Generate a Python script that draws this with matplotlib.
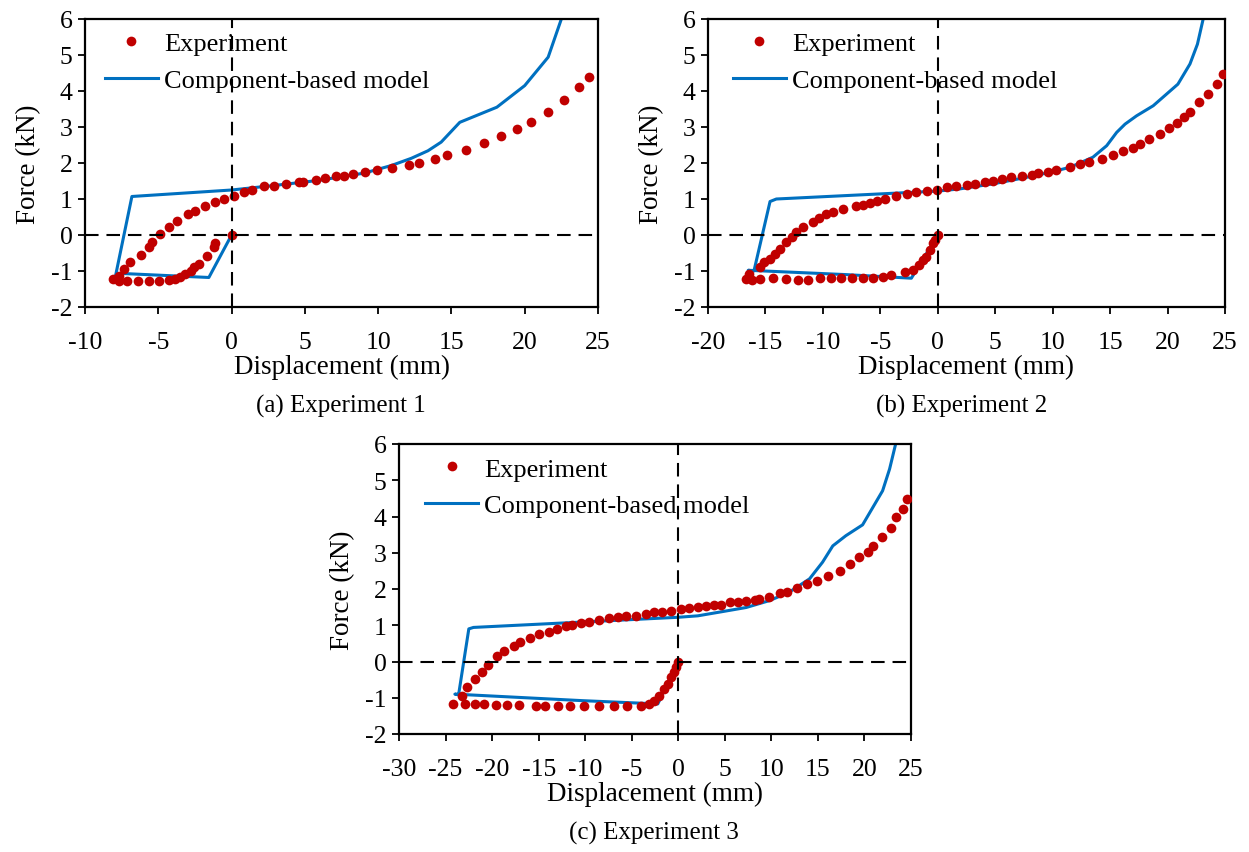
import matplotlib
matplotlib.use('Agg')
import matplotlib.pyplot as plt
import numpy as np

plt.rcParams['font.family'] = ['Liberation Serif', 'DejaVu Serif']
plt.rcParams['axes.unicode_minus'] = False

# Experiment 1
exp1_x = [0, -1.1, -1.2, -1.66, -2.24, -2.58, -2.8, -3.15, -3.5, -3.84, -4.3, -4.98, -5.66, -6.4, -7.14, -7.7, -8.06,
          -7.7, -7.37, -6.9, -6.2, -5.66, -5.43, -4.86, -4.3, -3.7, -3.0, -2.47, -1.78, -1.1, -0.52, 0.16, 0.84, 1.4,
          2.2, 2.9, 3.7, 4.6, 4.9, 5.75, 6.4, 7.1, 7.65, 8.3, 9.1, 9.9, 10.96, 12.1, 12.8, 13.86, 14.7, 16.0, 17.2,
          18.4, 19.5, 20.4, 21.6, 22.65, 23.7, 24.4]
exp1_y = [0, -0.23, -0.34, -0.57, -0.8, -0.9, -0.99, -1.08, -1.18, -1.22, -1.24, -1.27, -1.27, -1.27, -1.27, -1.27, -1.22,
          -1.13, -0.94, -0.76, -0.56, -0.34, -0.2, 0.03, 0.21, 0.4, 0.58, 0.68, 0.81, 0.93, 1.0, 1.09, 1.19, 1.26,
          1.35, 1.37, 1.42, 1.46, 1.48, 1.53, 1.58, 1.65, 1.65, 1.69, 1.74, 1.8, 1.86, 1.94, 2.0, 2.11, 2.23, 2.36, 2.55,
          2.74, 2.94, 3.15, 3.43, 3.75, 4.1, 4.38]
model1_x = [0, -1.55, -7.4, -7.95, -6.8, 0, 3, 6, 9.06, 10.9, 12.26, 13.4, 14.3, 15.57, 18.1, 20.0, 21.6, 22.5]
model1_y = [0, -1.18, -1.07, -1.2, 1.07, 1.25, 1.38, 1.52, 1.72, 1.93, 2.13, 2.34, 2.58, 3.13, 3.55, 4.15, 4.94, 6.0]

# Experiment 2
exp2_x = [0, -0.26, -0.41, -0.7, -0.99, -1.28, -1.63, -2.15, -2.87, -4.03, -4.76, -5.63, -6.5, -7.43, -8.4, -9.26,
          -10.28, -11.3, -12.17, -13.2, -14.3, -15.5, -16.2, -16.67,
          -16.4, -15.5, -15.1, -14.6, -14.2, -13.76, -13.2, -12.7, -12.3, -11.7, -10.85, -10.3, -9.7, -9.1, -8.25, -7.1,
          -6.5, -5.9, -5.3, -4.6, -3.6, -2.7, -1.86, -0.98, -0.1, 0.76, 1.6, 2.5, 3.2, 4.1, 4.8, 5.55, 6.4, 7.3, 8.2,
          8.74, 9.6, 10.3, 11.5, 12.4, 13.2, 14.26, 15.27, 16.1, 16.96, 17.6, 18.4, 19.3, 20.15, 20.8, 21.4, 21.95,
          22.76, 23.5, 24.3, 24.85]
exp2_y = [0, -0.14, -0.23, -0.42, -0.6, -0.69, -0.83, -0.97, -1.04, -1.11, -1.16, -1.2, -1.2, -1.2, -1.2, -1.2,
          -1.2, -1.25, -1.25, -1.22, -1.2, -1.22, -1.25, -1.22,
          -1.08, -0.9, -0.76, -0.67, -0.53, -0.39, -0.2, -0.06, 0.08, 0.21, 0.35, 0.46, 0.58, 0.63, 0.72, 0.8,
          0.83, 0.89, 0.95, 1.0, 1.09, 1.14, 1.19, 1.23, 1.26, 1.32, 1.37, 1.39, 1.42, 1.46, 1.51, 1.56, 1.6, 1.65, 1.68,
          1.72, 1.76, 1.81, 1.88, 1.97, 2.04, 2.11, 2.22, 2.34, 2.41, 2.53, 2.67, 2.8, 2.96, 3.1, 3.27, 3.41,
          3.69, 3.92, 4.19, 4.47]
model2_x = [0, -2.3, -8, -16.5, -16.0, -14.6, -14.05, 0, 1.9, 4.8, 7.7, 9.75, 11.5, 13.5, 14.7, 15.57, 16.3, 17.3,
            18.75, 20.9, 21.95, 22.6, 23.1]
model2_y = [0, -1.2, -1.1, -0.98, -1.0, 0.93, 1.0, 1.22, 1.28, 1.42, 1.6, 1.74, 1.88, 2.16, 2.48, 2.85, 3.08, 3.31,
            3.59, 4.19, 4.75, 5.3, 6.0]

# Experiment 3
exp3_x = [0, -0.25, -0.43, -0.79, -1.15, -1.5, -2.05, -2.6, -3.13, -4.03, -5.46, -6.9, -8.5, -10.1, -11.6, -12.9,
          -14.3, -15.3, -17.1, -18.4, -19.6, -20.9, -21.8, -22.9, -24.2,
          -23.2, -22.7, -21.8, -21.1, -20.4, -19.5, -18.7, -17.6, -16.95, -15.9, -15.0, -13.9, -13.0, -12.1, -11.4,
          -10.5, -9.6, -8.5, -7.4, -6.5, -5.6, -4.56, -3.5, -2.6, -1.7, -0.8, 0.3, 1.2, 2.1, 3.0, 3.8, 4.6, 5.57, 6.4,
          7.3, 8.2, 8.7, 9.7, 10.9, 11.7, 12.75, 13.8, 14.9, 16.05, 17.4, 18.4, 19.45, 20.35, 20.9, 21.9, 22.8, 23.4,
          24.1, 24.6]
exp3_y = [0, -0.16, -0.3, -0.44, -0.62, -0.76, -0.94, -1.08, -1.17, -1.22, -1.24, -1.24, -1.24, -1.24, -1.24, -1.24,
          -1.24, -1.24, -1.2, -1.2, -1.2, -1.17, -1.17, -1.17, -1.17,
          -0.94, -0.71, -0.48, -0.28, -0.1, 0.16, 0.3, 0.44, 0.55, 0.64, 0.76, 0.82, 0.9, 0.97, 1.0,
          1.06, 1.1, 1.15, 1.19, 1.22, 1.25, 1.26, 1.31, 1.36, 1.37, 1.4, 1.45, 1.47, 1.5, 1.52, 1.56, 1.56, 1.63, 1.65,
          1.68, 1.7, 1.72, 1.77, 1.89, 1.93, 2.02, 2.14, 2.23, 2.35, 2.5, 2.69, 2.87, 3.01, 3.18, 3.43, 3.67, 3.98,
          4.2, 4.48]
model3_x = [0, -2.2, -10.3, -24.0, -23.6, -22.5, -22.0, 0, 2.1, 4.6, 7.3, 9.8, 11.9, 14.1, 15.5, 16.6, 18.0, 19.8,
            21.95, 22.7, 23.35]
model3_y = [0, -1.17, -1.08, -0.9, -0.92, 0.9, 0.94, 1.22, 1.26, 1.37, 1.49, 1.68, 1.91, 2.28, 2.74, 3.19, 3.47, 3.77,
            4.71, 5.31, 6.0]

captions = ['(a) Experiment 1', '(b) Experiment 2', '(c) Experiment 3']

W, H = 1249, 853


def draw(ax, ex, ey, mx, my, xmin, leg_x):
    ax.plot(ex, ey, 'o', color='#C00000', markersize=7, markeredgewidth=0, label='Experiment', zorder=3)
    ax.plot(mx, my, '-', color='#0070C0', lw=2.2, label='Component-based model', zorder=2)
    ax.axhline(0, color='k', lw=1.5, dashes=(6.5, 3.8), zorder=6)
    ax.axvline(0, color='k', lw=1.5, dashes=(6.5, 3.8), zorder=6)
    ax.set_xlim(xmin, 25)
    ax.set_ylim(-2, 6)
    ax.set_xticks(np.arange(xmin, 26, 5))
    ax.set_yticks(np.arange(-2, 7, 1))
    ax.tick_params(direction='out', length=5, width=1.3, labelsize=18.5)
    ax.tick_params(axis='x', pad=12)
    ax.tick_params(axis='y', pad=4)
    for s in ax.spines.values():
        s.set_linewidth(1.6)
    ax.set_xlabel('Displacement (mm)', fontsize=19.5, labelpad=1)
    ax.set_ylabel('Force (kN)', fontsize=19.5, labelpad=7)
    ax.legend(loc='upper left', bbox_to_anchor=(leg_x, 0.955), frameon=False, fontsize=19,
              borderpad=0, borderaxespad=0, handlelength=2.0, handletextpad=0.25, labelspacing=0.5)


fig = plt.figure(figsize=(W / 100, H / 100), dpi=100)
ax1 = fig.add_axes([85 / W, 1 - 308 / H, 513 / W, 288 / H])
ax2 = fig.add_axes([708 / W, 1 - 308 / H, 517 / W, 288 / H])
ax3 = fig.add_axes([399 / W, 1 - 735 / H, 512 / W, 290 / H])

draw(ax1, exp1_x, exp1_y, model1_x, model1_y, -10, 0.039)
draw(ax2, exp2_x, exp2_y, model2_x, model2_y, -20, 0.048)
draw(ax3, exp3_x, exp3_y, model3_x, model3_y, -30, 0.051)

fig.text(341 / W, 1 - 406 / H, captions[0], ha='center', va='center', fontsize=18)
fig.text(962 / W, 1 - 406 / H, captions[1], ha='center', va='center', fontsize=18)
fig.text(654 / W, 1 - 833 / H, captions[2], ha='center', va='center', fontsize=18)

plt.savefig('out.png', dpi=100)
